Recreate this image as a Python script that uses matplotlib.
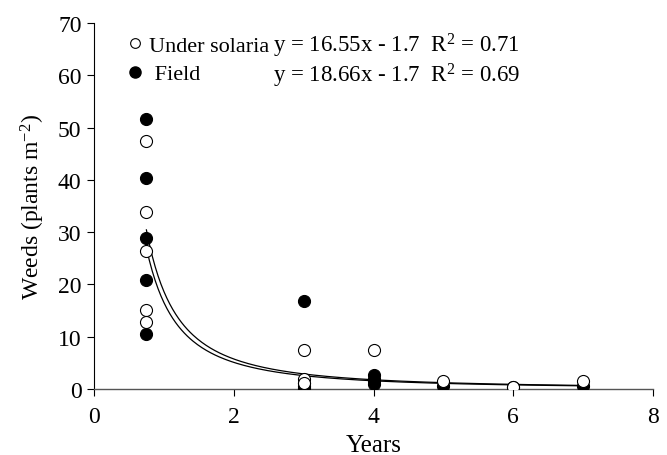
import numpy as np
import matplotlib
matplotlib.use("Agg")
import matplotlib.pyplot as plt
from matplotlib.lines import Line2D

plt.rcParams['font.family'] = ['Liberation Serif', 'DejaVu Serif']
plt.rcParams['mathtext.fontset'] = 'custom'
plt.rcParams['mathtext.rm'] = 'Liberation Serif'
plt.rcParams['mathtext.it'] = 'Liberation Serif:italic'

# Data
solaria_x = [0.75, 0.75, 0.75, 0.75, 0.75, 3, 3, 3, 4, 5, 6, 7]
solaria_y = [47.5, 33.8, 26.4, 15.2, 12.9, 7.5, 2.0, 1.2, 7.5, 1.5, 0.4, 1.5]
field_x = [0.75, 0.75, 0.75, 0.75, 0.75, 3, 3, 3, 3, 4, 4, 4, 4, 5, 6, 7]
field_y = [51.6, 40.3, 28.8, 20.9, 10.5, 16.8, 1.2, 0.5, 0.2, 2.6, 2.0, 1.5, 1.0, 0.5, 0.4, 0.5]

# Fitted power curves y = a * x^b
fit_a = [16.55, 18.66]
fit_b = [-1.7, -1.7]
fit_labels = ["y = 16.55x - 1.7  R$^{2}$ = 0.71", "y = 18.66x - 1.7  R$^{2}$ = 0.69"]
x_ticks = [0, 2, 4, 6, 8]
y_ticks = [0, 10, 20, 30, 40, 50, 60, 70]

fig = plt.figure(figsize=(6.67, 4.56), dpi=100)
ax = fig.add_axes([94 / 667, 66 / 456, 559 / 667, 366 / 456])

xc = np.linspace(0.75, 7, 300)
for a, b in zip(fit_a, fit_b):
    ax.plot(xc, a * xc ** b, color='black', lw=0.9, zorder=2)

ax.scatter(field_x, field_y, s=75, facecolor='black', edgecolor='black', lw=0.8, zorder=3)
ax.scatter(solaria_x, solaria_y, s=75, facecolor='white', edgecolor='black', lw=0.8, zorder=4)

ax.set_xlim(0, 8)
ax.set_ylim(0, 70)
ax.set_xticks(x_ticks)
ax.set_yticks(y_ticks)
ax.tick_params(direction='out', length=5, width=0.8, labelsize=17, colors='black')
ax.tick_params(axis='x', pad=7)
ax.tick_params(axis='y', pad=4)
for s in ['top', 'right']:
    ax.spines[s].set_visible(False)
ax.spines['left'].set_linewidth(0.8)
ax.spines['bottom'].set_linewidth(1.0)
ax.spines['bottom'].set_color('#555555')
ax.set_xlabel('Years', fontsize=18, labelpad=5)
ax.set_ylabel('Weeds (plants m$^{\\mathregular{-2}}$)', fontsize=17, labelpad=8)

handles = [Line2D([], [], marker='o', ls='none', markersize=7, markerfacecolor='white', markeredgecolor='black', markeredgewidth=0.8),
           Line2D([], [], marker='o', ls='none', markersize=8, markerfacecolor='black', markeredgecolor='black')]
leg = ax.legend(handles, ['Under solaria', ' Field'], loc='upper left', bbox_to_anchor=(0.046, 0.99),
                frameon=False, fontsize=16, handlelength=0.6, handletextpad=0.3, labelspacing=0.35,
                borderaxespad=0.0)

for i, lab in enumerate(fit_labels):
    fig.text(273 / 667, 1 - (46 + i * 30) / 456, lab, fontsize=16.5, va='center', ha='left')

fig.savefig('out.png', dpi=100)
